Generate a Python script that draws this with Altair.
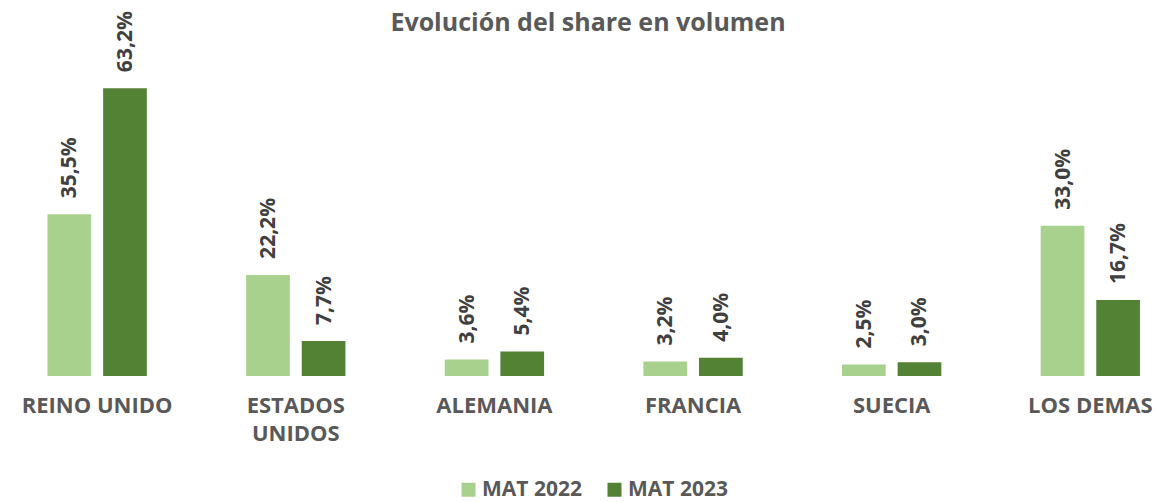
import altair as alt
import pandas as pd

categories = ["REINO UNIDO", "ESTADOS UNIDOS", "ALEMANIA", "FRANCIA", "SUECIA", "LOS DEMAS"]
series = ["MAT 2022", "MAT 2023"]
mat_2022 = [35.5, 22.2, 3.6, 3.2, 2.5, 33.0]
mat_2023 = [63.2, 7.7, 5.4, 4.0, 3.0, 16.7]
colors = ["#A9D18E", "#548235"]

rows = []
for i, c in enumerate(categories):
    for s, vals in zip(series, [mat_2022, mat_2023]):
        v = vals[i]
        rows.append({"cat": c, "serie": s, "value": v,
                     "label": f"{v:.1f}".replace(".", ",") + "%"})
df = pd.DataFrame(rows)

FONT = "Open Sans"

x_enc = alt.X("cat:N", sort=categories, title=None,
              scale=alt.Scale(paddingInner=0.5, paddingOuter=0.17, align=0.585),
              axis=alt.Axis(domain=False, ticks=False, labelAngle=0,
                            labelFont=FONT, labelFontSize=22, labelFontWeight="bold",
                            labelColor="#595959", labelPadding=19, labelLineHeight=28,
                            labelExpr="datum.label == 'ESTADOS UNIDOS' ? ['ESTADOS', 'UNIDOS'] : datum.label"))
xoff_enc = alt.XOffset("serie:N", sort=series,
                       scale=alt.Scale(paddingInner=0.214, paddingOuter=0))
y_enc = alt.Y("value:Q", title=None,
              scale=alt.Scale(domain=[0, 76.4], nice=False),
              axis=None)

base = alt.Chart(df).encode(x=x_enc, xOffset=xoff_enc, y=y_enc)

bars = base.mark_bar().encode(
    color=alt.Color("serie:N", sort=series,
                    scale=alt.Scale(domain=series, range=colors),
                    legend=alt.Legend(title=None, orient="none", direction="horizontal",
                                      legendX=450, legendY=451,
                                      symbolType="square", symbolSize=196,
                                      symbolStrokeWidth=0,
                                      labelFont=FONT, labelFontSize=21,
                                      labelFontWeight="bold", labelColor="#595959",
                                      columnPadding=22, labelOffset=3))
)

texts = base.mark_text(angle=270, align="left", baseline="middle", dx=16, dy=1,
                       font=FONT, fontSize=21, fontWeight="bold",
                       color="#404040").encode(text="label:N")

chart = alt.layer(bars, texts).properties(
    width=1160, height=348,
    autosize=alt.AutoSizeParams(type="none"),
    padding={"left": 0, "top": 20, "right": 0, "bottom": 126},
    title=alt.TitleParams("Evolución del share en volumen", font=FONT, fontSize=25,
                          fontWeight="bold", color="#595959", anchor="middle",
                          baseline="top", offset=-25),
).configure_view(stroke=None)

chart.save("out.html", embed_options={"renderer": "svg", "actions": False})
